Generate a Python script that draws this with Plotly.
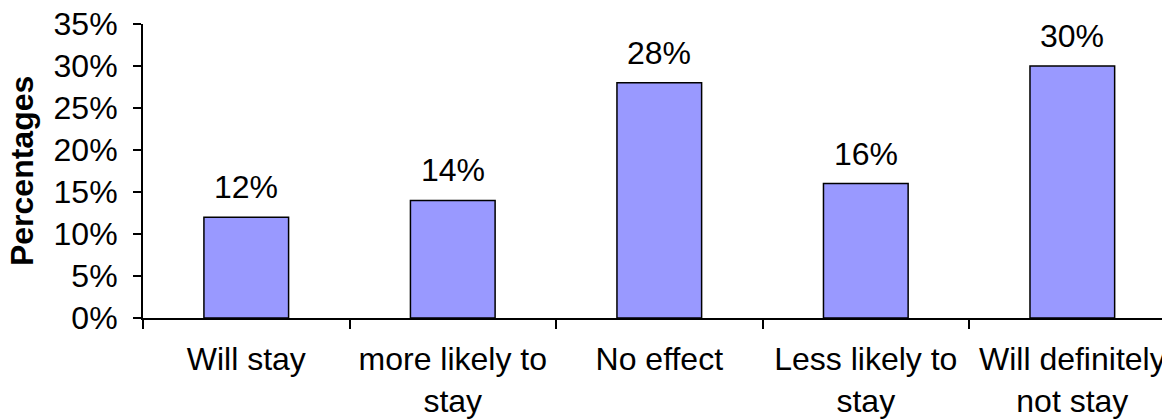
import plotly.graph_objects as go

categories = ["Will stay", "more likely to<br>stay", "No effect", "Less likely to<br>stay", "Will definitely<br>not stay"]
values = [12, 14, 28, 16, 30]
value_labels = ["12%", "14%", "28%", "16%", "30%"]
y_ticks = [0, 5, 10, 15, 20, 25, 30, 35]
y_tick_labels = ["0%", "5%", "10%", "15%", "20%", "25%", "30%", "35%"]
y_title = "Percentages"

FONT = "Liberation Sans, Arial, sans-serif"
FS = 32

fig = go.Figure()
fig.add_trace(go.Bar(
    x=categories, y=values, width=0.41,
    marker=dict(color="#9999FF", line=dict(color="black", width=1.5)),
    hoverinfo="skip",
))

for c, v, t in zip(categories, values, value_labels):
    fig.add_annotation(x=c, y=v, text=t, showarrow=False, yanchor="middle",
                       yshift=30, font=dict(family=FONT, size=FS, color="black"))

# y-axis title as rotated annotation for exact placement
fig.add_annotation(xref="paper", yref="paper", x=-0.1178, y=0.5,
                   text="<b>" + y_title + "</b>", textangle=-90, showarrow=False,
                   xanchor="center", yanchor="middle",
                   font=dict(family=FONT, size=FS, color="black"))

fig.update_layout(
    width=1162, height=411,
    margin=dict(l=135, r=0, t=16, b=101),
    paper_bgcolor="white", plot_bgcolor="white",
    showlegend=False,
    font=dict(family=FONT, size=FS, color="black"),
    xaxis=dict(
        type="category", range=[-0.5, 4.473], automargin=False,
        showline=True, linecolor="black", linewidth=2,
        ticks="outside", tickson="boundaries", ticklen=9, tickwidth=1.5, tickcolor="black",
        showgrid=False, zeroline=False, ticklabelstandoff=12, ticklabeloverflow="allow",
        tickfont=dict(family=FONT, size=FS, color="black"),
    ),
    yaxis=dict(
        range=[0, 35], tickvals=y_ticks, ticktext=y_tick_labels, automargin=False,
        showline=True, linecolor="black", linewidth=2,
        ticks="outside", ticklen=8, tickwidth=1.5, tickcolor="black",
        showgrid=False, zeroline=False, ticklabelstandoff=9, ticklabeloverflow="allow",
        tickfont=dict(family=FONT, size=FS, color="black"),
    ),
)

fig.write_html("out.html")
